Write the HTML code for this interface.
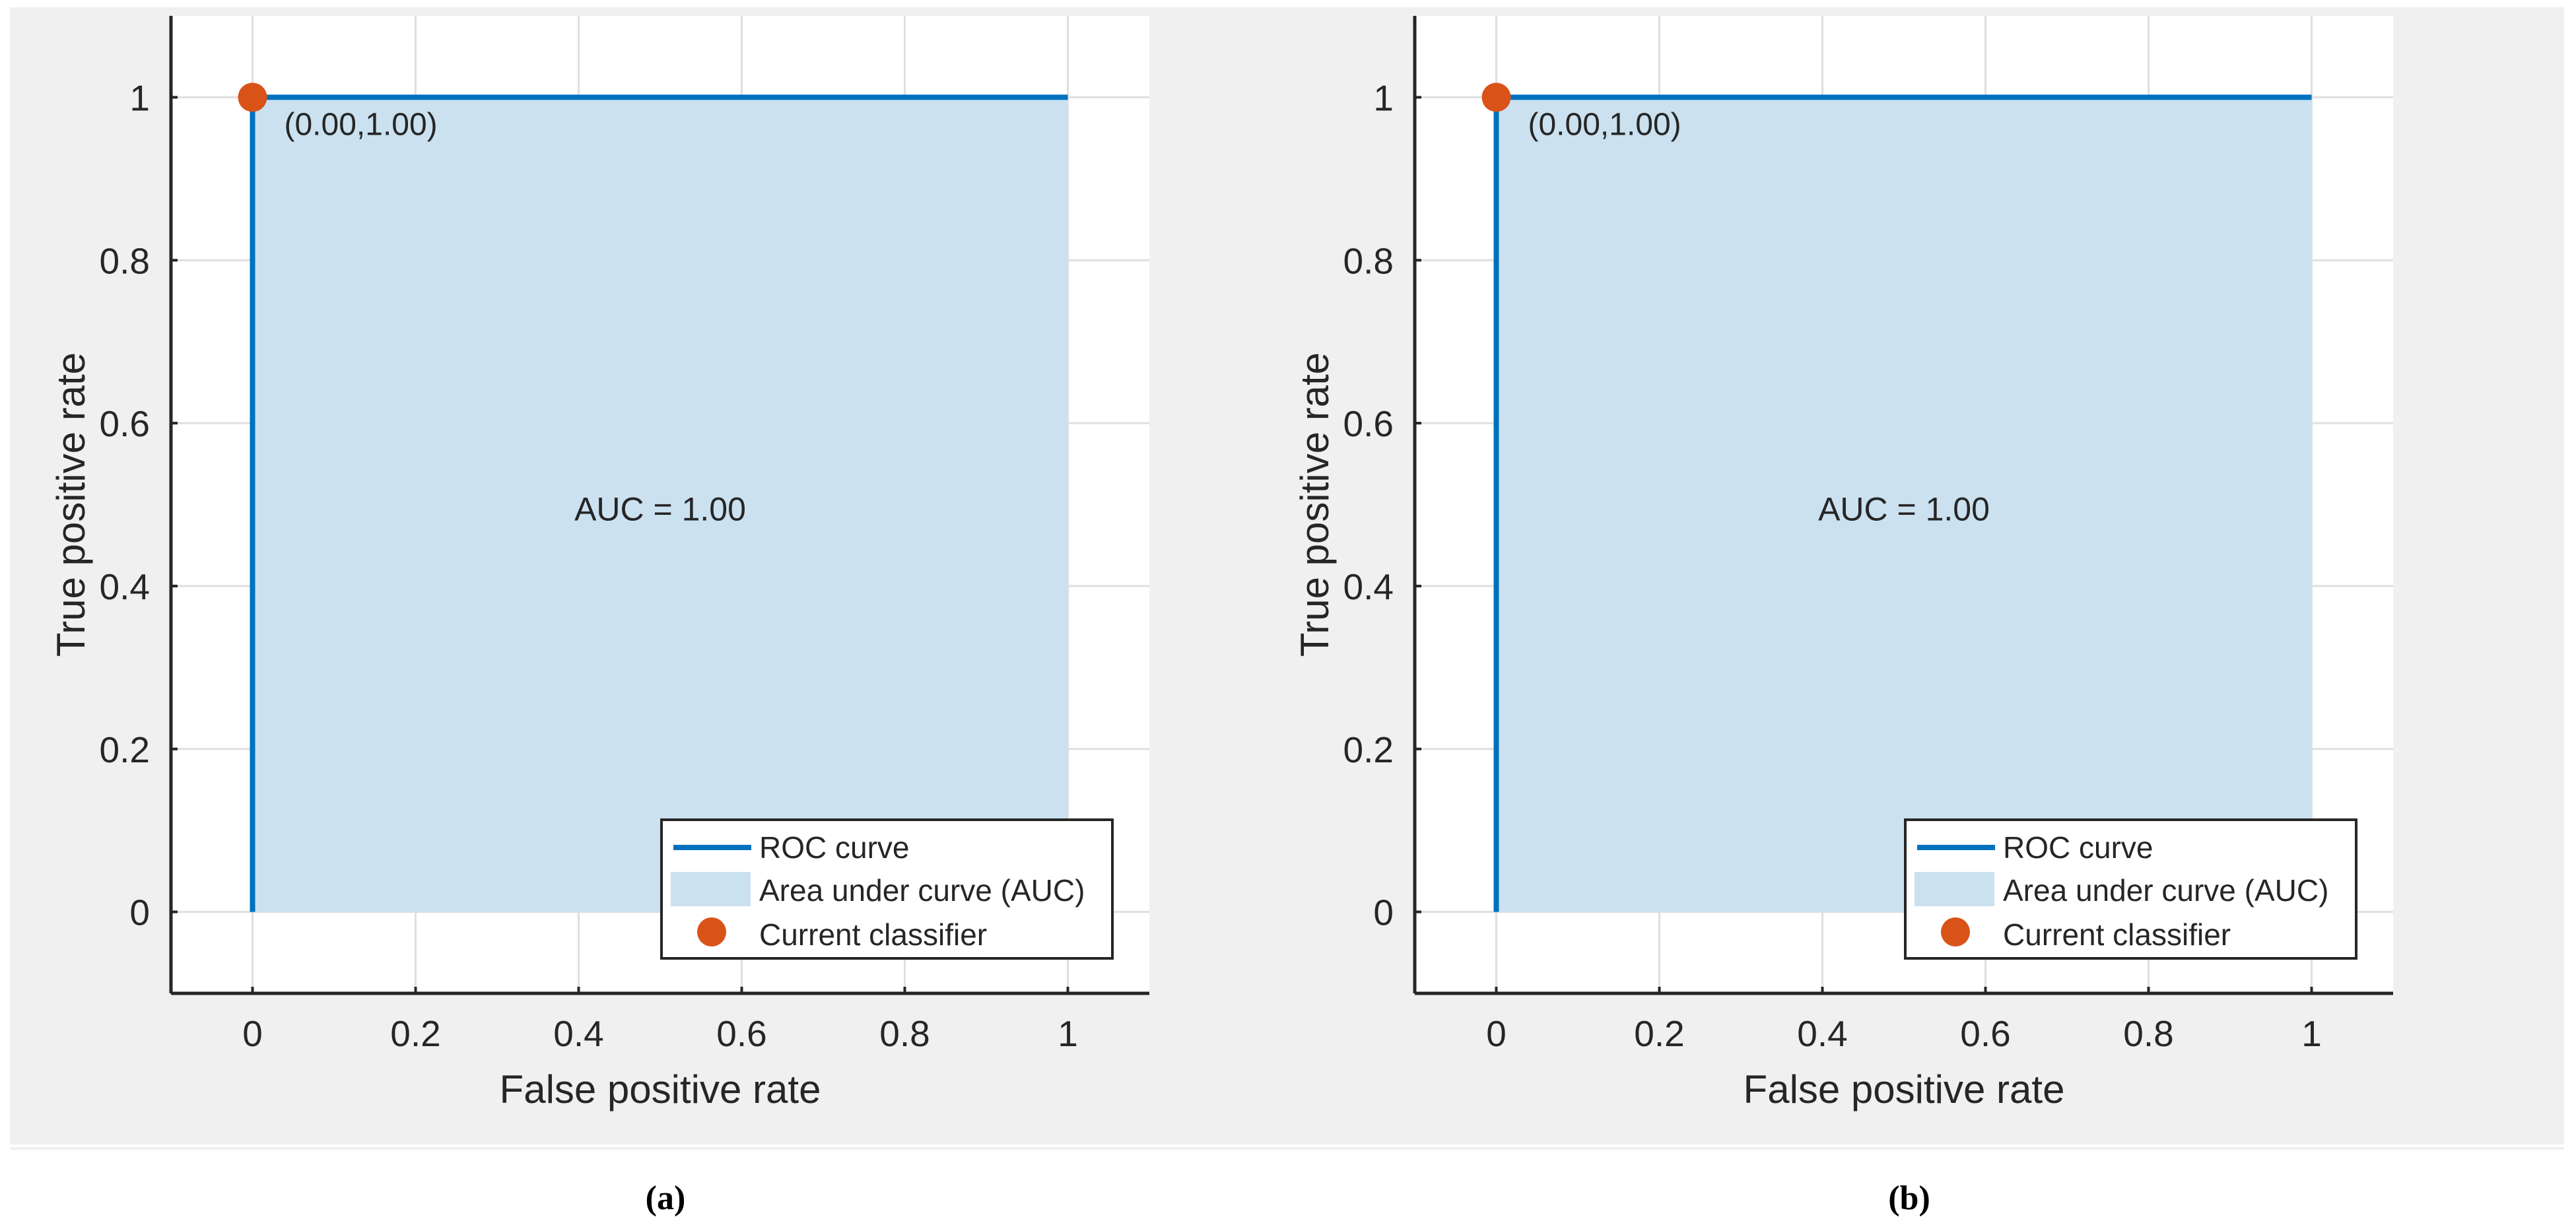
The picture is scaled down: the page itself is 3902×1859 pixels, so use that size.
<!DOCTYPE html>
<html><head><meta charset="utf-8"><style>
html,body{margin:0;padding:0;background:#fff;}
svg{display:block;}
text{font-family:"Liberation Sans",Arial,sans-serif;fill:#262626;}
</style></head><body>
<svg id="fig" xmlns="http://www.w3.org/2000/svg" width="3902" height="1859" viewBox="0 0 3902 1859">
<rect x="15" y="11" width="3869" height="1723" fill="#f0f0f0"/>
<rect x="15" y="1738" width="3869" height="4" fill="#f0f0f0"/>
</svg>
<script>
const rocX = [0, 0, 1];
const rocY = [0, 1, 1];
const aucValue = [1.00];
const classifierPoint = [0.00, 1.00];
const xTicks = [0, 0.2, 0.4, 0.6, 0.8, 1];
const yTicks = [0, 0.2, 0.4, 0.6, 0.8, 1];
const xTickLabels = ["0", "0.2", "0.4", "0.6", "0.8", "1"];
const yTickLabels = ["0", "0.2", "0.4", "0.6", "0.8", "1"];
const panelCaptions = ["(a)", "(b)"];

const NS = "http://www.w3.org/2000/svg";
const svg = document.getElementById('fig');
function mk(tag, attrs, parent) {
  const e = document.createElementNS(NS, tag);
  for (const k in attrs) e.setAttribute(k, attrs[k]);
  parent.appendChild(e);
  return e;
}
function drawPanel(off, caption, idx) {
  const L = 259 + off, R = 1741 + off, T = 24, B = 1505;
  const xmin = -0.1, xmax = 1.1, ymin = -0.1, ymax = 1.1;
  const sx = v => L + (v - xmin) / (xmax - xmin) * (R - L);
  const sy = v => B - (v - ymin) / (ymax - ymin) * (B - T);
  const g = mk('g', {}, svg);
  
  
  const bg = mk('rect', {x: L, y: T, width: R - L, height: B - T, fill: '#ffffff'}, g);
  
  
  xTicks.forEach((t, i) => {
    const gl = mk('line', {x1: sx(t), x2: sx(t), y1: T, y2: B, stroke: '#dfdfdf', 'stroke-width': 3}, g);
    
    
    const tk = mk('line', {x1: sx(t), x2: sx(t), y1: B, y2: B - 10, stroke: '#262626', 'stroke-width': 4}, g);
    
    
    const tl = mk('text', {x: sx(t), y: 1585, 'font-size': 55, 'text-anchor': 'middle'}, g);
    tl.textContent = xTickLabels[i];
    
    
  });
  yTicks.forEach((t, i) => {
    const gl = mk('line', {x1: L, x2: R, y1: sy(t), y2: sy(t), stroke: '#dfdfdf', 'stroke-width': 3}, g);
    
    
    const tk = mk('line', {x1: L, x2: L + 10, y1: sy(t), y2: sy(t), stroke: '#262626', 'stroke-width': 4}, g);
    
    
    const tl = mk('text', {x: L - 32, y: sy(t) + 20, 'font-size': 55, 'text-anchor': 'end'}, g);
    tl.textContent = yTickLabels[i];
    
    
  });
  // AUC area
  let d = 'M' + sx(rocX[0]) + ',' + sy(0);
  rocX.forEach((x, i) => { d += ' L' + sx(x) + ',' + sy(rocY[i]); });
  d += ' L' + sx(rocX[rocX.length - 1]) + ',' + sy(0) + ' Z';
  const area = mk('path', {d: d, fill: '#cbe1f0'}, g);
  
  
  const pts = rocX.map((x, i) => sx(x) + ',' + sy(rocY[i])).join(' ');
  const roc = mk('polyline', {points: pts, fill: 'none', stroke: '#0072bd', 'stroke-width': 8}, g);
  
  
  // axes box lines
  const ax = mk('line', {x1: L, x2: R, y1: B, y2: B, stroke: '#262626', 'stroke-width': 5}, g);
  
  
  const ay = mk('line', {x1: L, x2: L, y1: T, y2: B, stroke: '#262626', 'stroke-width': 5}, g);
  
  
  const mkr = mk('circle', {cx: sx(classifierPoint[0]), cy: sy(classifierPoint[1]), r: 22, fill: '#d95319'}, g);
  
  
  const pl = mk('text', {x: sx(classifierPoint[0]) + 48, y: sy(classifierPoint[1]) + 57, 'font-size': 48}, g);
  pl.textContent = '(' + classifierPoint[0].toFixed(2) + ',' + classifierPoint[1].toFixed(2) + ')';
  
  
  const auc = mk('text', {x: sx(0.5), y: sy(0.5) + 24, 'font-size': 50, 'text-anchor': 'middle'}, g);
  auc.textContent = 'AUC = ' + aucValue[0].toFixed(2);
  
  
  // legend
  const lg = mk('g', {}, g);
  
  
  const lb = mk('rect', {x: 1002 + off, y: 1242, width: 683, height: 210, fill: '#ffffff', stroke: '#262626', 'stroke-width': 4}, lg);
  
  
  const l1 = mk('line', {x1: 1020 + off, x2: 1138 + off, y1: 1284, y2: 1284, stroke: '#0072bd', 'stroke-width': 8}, lg);
  
  
  const l2 = mk('rect', {x: 1016 + off, y: 1321, width: 121, height: 52, fill: '#cbe1f0'}, lg);
  
  
  const l3 = mk('circle', {cx: 1078 + off, cy: 1412, r: 22, fill: '#d95319'}, lg);
  
  
  [['ROC curve', 1300, 'legend-entry-roc'], ['Area under curve (AUC)', 1365, 'legend-entry-auc'], ['Current classifier', 1432, 'legend-entry-classifier']].forEach(r => {
    const t = mk('text', {x: 1150 + off, y: r[1], 'font-size': 46}, lg);
    t.textContent = r[0];
    
    
  });
  const xl = mk('text', {x: sx(0.5), y: 1671, 'font-size': 60, 'text-anchor': 'middle'}, g);
  xl.textContent = 'False positive rate';
  
  
  const yl = mk('text', {x: 0, y: 0, 'font-size': 60, 'text-anchor': 'middle', transform: 'translate(' + (128 + off) + ',' + sy(0.5) + ') rotate(-90)'}, g);
  yl.textContent = 'True positive rate';
  
  
  const cap = mk('text', {x: sx(0.5) + 8, y: 1832, 'font-size': 52, 'font-weight': 'bold', 'text-anchor': 'middle', style: 'font-family:"Liberation Serif",serif;fill:#000'}, svg);
  cap.textContent = caption;
  
  
}
panelCaptions.forEach((c, i) => drawPanel(i * 1884, c, i));
</script>
</body></html>
